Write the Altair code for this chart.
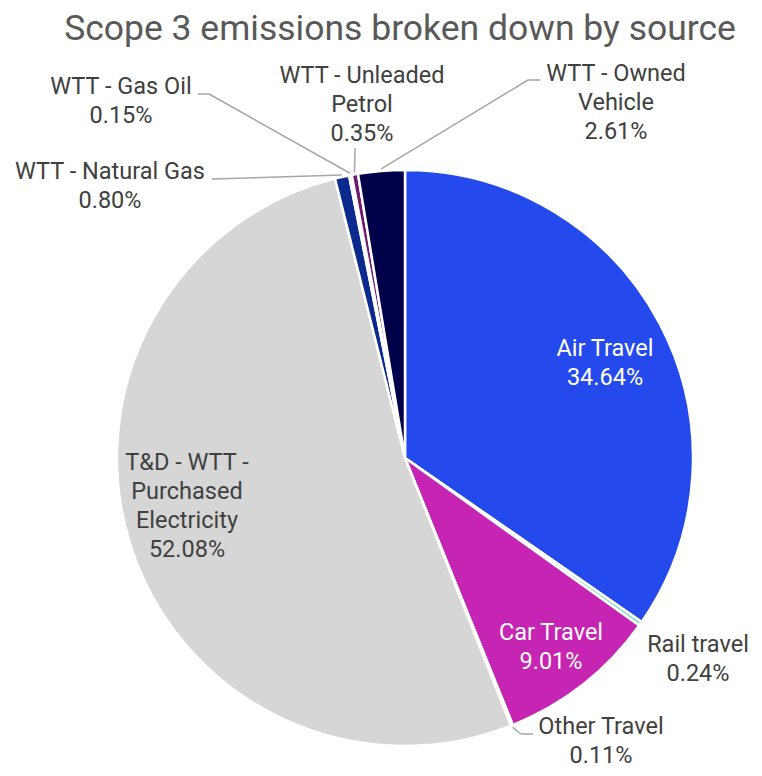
import altair as alt
import pandas as pd
import numpy as np

# ---- data ----
categories = ["Air Travel", "Rail travel", "Car Travel", "Other Travel",
              "T&D - WTT - Purchased Electricity", "WTT - Natural Gas",
              "WTT - Gas Oil", "WTT - Unleaded Petrol", "WTT - Owned Vehicle"]
values = [34.64, 0.24, 9.01, 0.11, 52.08, 0.80, 0.15, 0.35, 2.61]
colors = ["#2449EC", "#7FE3BE", "#C625B3", "#EEEEEE", "#D6D6D6",
          "#0C2A8E", "#F4F4F4", "#6E1A6E", "#00004A"]
label_lines = ["Air Travel", "Rail travel", "Car Travel", "Other Travel",
               "T&D - WTT -\nPurchased\nElectricity", "WTT - Natural Gas",
               "WTT - Gas Oil", "WTT - Unleaded\nPetrol", "WTT - Owned\nVehicle"]
title_text = "Scope 3 emissions broken down by source"

# ---- layout (plot-area pixels; page minus 8px margin) ----
M = 8
CX, CY, R = 405 - M, 458 - M, 288
label_pos = {  # centre x, first-line y (page coords)
    "Air Travel": (605, 349), "Rail travel": (698, 645), "Car Travel": (551, 633),
    "Other Travel": (601, 727), "T&D - WTT - Purchased Electricity": (187, 463),
    "WTT - Natural Gas": (110, 172), "WTT - Gas Oil": (121, 87),
    "WTT - Unleaded Petrol": (362, 76), "WTT - Owned Vehicle": (616, 74),
}
inside = {"Air Travel", "Car Travel"}
leaders = {  # elbow, end (page coords)
    "WTT - Gas Oil": ((209, 94), (198, 94)),
    "WTT - Natural Gas": ((212, 179), (212, 179)),
    "WTT - Unleaded Petrol": (None, (355, 148)),
    "WTT - Owned Vehicle": ((528, 80), (540, 80)),
    "Other Travel": ((521, 734), (533, 734)),
}

df = pd.DataFrame({"category": categories, "value": values, "idx": range(len(values))})
total = sum(values)
cum = np.cumsum([0] + values)
mid = {c: (cum[i] + values[i] / 2) / total * 2 * np.pi for i, c in enumerate(categories)}

lab = pd.DataFrame({
    "category": categories,
    "text": [f"{l}\n{v:.2f}%" for l, v in zip(label_lines, values)],
    "x": [label_pos[c][0] - M for c in categories],
    "y": [label_pos[c][1] - M for c in categories],
    "inside": [c in inside for c in categories],
})

segs = []
for c, (elbow, end) in leaders.items():
    a = mid[c]
    sx, sy = CX + (R + 2) * np.sin(a), CY - (R + 2) * np.cos(a)
    pts = [(sx, sy)]
    if elbow is not None:
        pts.append((elbow[0] - M, elbow[1] - M))
    pts.append((end[0] - M, end[1] - M))
    for p, q in zip(pts[:-1], pts[1:]):
        segs.append({"x": p[0], "y": p[1], "x2": q[0], "y2": q[1]})
seg_df = pd.DataFrame(segs)

pie = alt.Chart(df).mark_arc(outerRadius=R, stroke="white", strokeWidth=2.5).encode(
    theta=alt.Theta("value:Q", stack=True),
    order=alt.Order("idx:Q"),
    color=alt.Color("category:N", scale=alt.Scale(domain=categories, range=colors), legend=None),
    x=alt.value(CX), y=alt.value(CY),
)

lines = alt.Chart(seg_df).mark_rule(color="#A6A6A6", strokeWidth=1.5).encode(
    x=alt.X("x:Q", scale=None), y=alt.Y("y:Q", scale=None),
    x2="x2:Q", y2="y2:Q",
)

texts = alt.Chart(lab).mark_text(font="Roboto", fontSize=23.5, lineBreak="\n", lineHeight=29,
                                 align="center", baseline="middle").encode(
    x=alt.X("x:Q", scale=None), y=alt.Y("y:Q", scale=None),
    text="text:N",
    color=alt.condition("datum.inside", alt.value("white"), alt.value("#404040")),
)

title = alt.Chart(pd.DataFrame({"t": [title_text]})).mark_text(
    font="Roboto", fontSize=35.5, color="#595959", align="center", baseline="alphabetic"
).encode(x=alt.value(400 - M), y=alt.value(40 - M), text="t:N")

chart = alt.layer(pie, lines, texts, title).properties(
    width=746, height=760, padding=0, autosize=alt.AutoSizeParams(type="none")
).configure_view(stroke=None)

chart.save("out.html", embed_options={"renderer": "svg", "actions": False})
